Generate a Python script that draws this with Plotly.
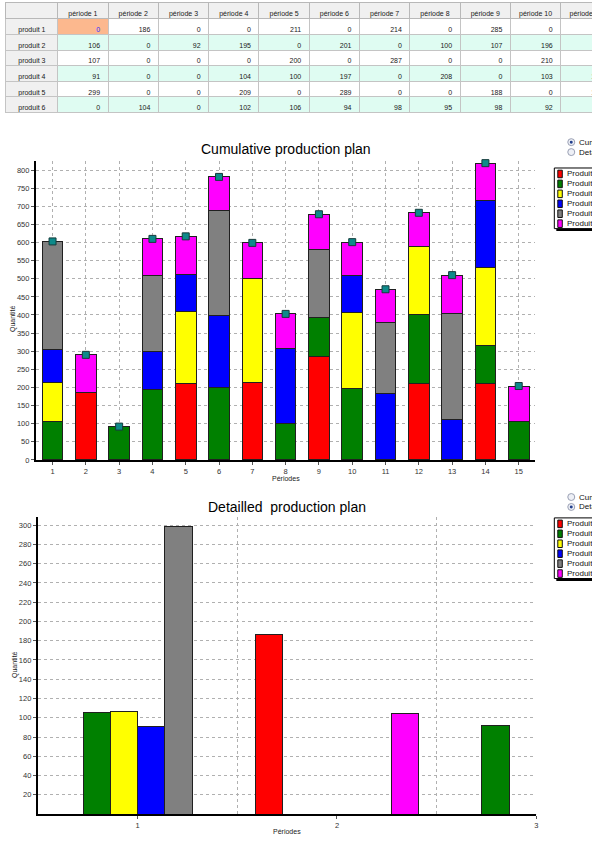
import plotly.graph_objects as go

# ---------------- data ----------------
periods = list(range(1, 16))
table_period_labels = [f"période\u00a0{i}" for i in range(1, 12)]
row_labels = [f"produit\u00a0{i}" for i in range(1, 7)]
legend_labels = [f"Produit {i}" for i in range(1, 7)]

produit_1 = [0, 186, 0, 0, 211, 0, 214, 0, 285, 0, 0, 210, 0, 211, 0]
produit_2 = [106, 0, 92, 195, 0, 201, 0, 100, 107, 196, 0, 190, 0, 106, 107]
produit_3 = [107, 0, 0, 0, 200, 0, 287, 0, 0, 210, 0, 189, 0, 213, 0]
produit_4 = [91, 0, 0, 104, 100, 197, 0, 208, 0, 103, 184, 0, 111, 186, 0]
produit_5 = [299, 0, 0, 209, 0, 289, 0, 0, 188, 0, 196, 0, 294, 0, 0]
produit_6 = [0, 104, 0, 102, 106, 94, 98, 95, 98, 92, 91, 93, 105, 103, 97]
series = [produit_1, produit_2, produit_3, produit_4, produit_5, produit_6]

detail_periods = periods[:3]
table_periods = 11

colors = ["#ff0000", "#008000", "#ffff00", "#0000ff", "#808080", "#ff00ff"]

# ---------------- geometry helpers ----------------
W, H = 660, 841
def px(x):
    return x / W
def py(y):
    return 1 - y / H

FONT = "Liberation Sans"
fig = go.Figure()

# ---------------- table ----------------
header_vals = [""] + table_period_labels
cell_vals = [row_labels]
fill_cols = [["#f0f0f0"] * 6]
font_cols = [["#202020"] * 6]
row_fill = ["#ffffff", "#dffcf2", "#ffffff", "#dffcf2", "#ffffff", "#dffcf2"]
for j in range(table_periods):
    col, fcol, ccol = [], [], []
    for i, s in enumerate(series):
        col.append(str(s[j]))
        if i == 0 and j == 0:   # selected cell
            fcol.append("#fcb88e")
            ccol.append("#2c2cff")
        else:
            fcol.append(row_fill[i])
            ccol.append("#202020")
    cell_vals.append(col)
    fill_cols.append(fcol)
    font_cols.append(ccol)

fig.add_trace(go.Table(
    domain=dict(x=[px(6), px(6 + 52 + 50.5 * 11)], y=[py(128), py(3)]),
    columnwidth=[52] + [50.5] * 11,
    header=dict(values=header_vals, fill_color="#f0f0f0", height=16,
                line=dict(color="#b8b8b8", width=1),
                font=dict(family=FONT, size=7, color="#202020"), align="center"),
    cells=dict(values=cell_vals, fill=dict(color=fill_cols), height=15.6,
               line=dict(color="#c4c4c4", width=1),
               font=dict(family=FONT, size=7, color=font_cols),
               align=["center"] + ["right"] * 11),
))

# ---------------- cumulative (stacked) chart ----------------
for i, s in enumerate(series):
    fig.add_trace(go.Bar(
        x=periods, y=s, xaxis="x", yaxis="y", name=legend_labels[i],
        offsetgroup="cum", width=0.62,
        marker=dict(color=colors[i], line=dict(color="#202020", width=1)),
        showlegend=False,
    ))
totals = [sum(vals) for vals in zip(*series)]
fig.add_trace(go.Scatter(
    x=periods, y=totals, xaxis="x", yaxis="y", mode="markers",
    marker=dict(symbol="square", size=7, color="#0d8a8a",
                line=dict(color="#163c3c", width=1)),
    showlegend=False, cliponaxis=False,
))

# ---------------- detailed (grouped) chart ----------------
for i, s in enumerate(series):
    fig.add_trace(go.Bar(
        x=detail_periods, y=s[:3], xaxis="x2", yaxis="y2", name=legend_labels[i],
        offsetgroup=f"d{i}",
        marker=dict(color=colors[i], line=dict(color="#202020", width=1)),
        showlegend=False,
    ))

DASH = "3px,3px"
grid = dict(showgrid=True, gridcolor="#b0b0b0", griddash=DASH, gridwidth=1)
axis_common = dict(showline=True, linecolor="black", linewidth=2, ticks="outside",
                   ticklen=3, tickcolor="#555", zeroline=False,
                   tickfont=dict(family=FONT, size=7.5, color="#333"), fixedrange=True)

fig.update_layout(
    width=W, height=H, margin=dict(l=0, r=0, t=0, b=0),
    paper_bgcolor="white", plot_bgcolor="white",
    barmode="stack", bargap=0.18, bargroupgap=0,
    font=dict(family=FONT),
    xaxis=dict(domain=[px(36), px(537)], range=[0.5, 15.5], tickvals=periods,
               anchor="y", **grid, **axis_common),
    yaxis=dict(domain=[py(462.7), py(162.3)], range=[0, 824], tick0=0, dtick=50,
               anchor="x", **grid, **axis_common),
    xaxis2=dict(domain=[px(38), px(538)], range=[0.5, 3.0], tickvals=detail_periods,
                anchor="y2", showgrid=False,
                minor=dict(tickvals=[1.5, 2.5], showgrid=True, gridcolor="#b0b0b0",
                           griddash=DASH, ticks=""),
                **axis_common),
    yaxis2=dict(domain=[py(819), py(520)], range=[0, 308.5],
                tickvals=list(range(20, 301, 20)), anchor="x2", **grid, **axis_common),
)

ann = []
shapes = []
def text(x, y, t, size=8, anchor="center", angle=0, color="#222"):
    ann.append(dict(x=px(x), y=py(y), xref="paper", yref="paper", text=t,
                    showarrow=False, xanchor=anchor, yanchor="middle",
                    textangle=angle, font=dict(family=FONT, size=size, color=color)))

# titles
text(286.5, 150, "Cumulative production plan", size=14, color="black")
text(288, 510, "Detailled\u00a0 production plan", size=14, color="black")
text(13, 320, "Quantité", size=7, angle=-90)
text(15, 668, "Quantité", size=7, angle=-90)
text(287, 481, "Périodes", size=7)
text(288, 836, "Périodes", size=7)

def legend_block(top_radio, box_top, selected):
    # radio buttons
    for k, lab in enumerate(["Cumulative", "Detailled"]):
        cy = top_radio + k * 10
        shapes.append(dict(type="circle", xref="paper", yref="paper",
                           x0=px(569.5), x1=px(576.5), y0=py(cy + 3.5), y1=py(cy - 3.5),
                           line=dict(color="#9aa0b4", width=1), fillcolor="#eef0f6"))
        if k == selected:
            shapes.append(dict(type="circle", xref="paper", yref="paper",
                               x0=px(571.5), x1=px(574.5), y0=py(cy + 1.5), y1=py(cy - 1.5),
                               line=dict(color="#23408e", width=0), fillcolor="#23408e"))
        text(579, cy, lab, size=8, anchor="left", color="#111")
    box_bot = box_top + 61
    shapes.append(dict(type="rect", xref="paper", yref="paper",
                       x0=px(558), x1=px(660), y0=py(box_bot + 2.5), y1=py(box_top + 2),
                       line=dict(width=0), fillcolor="black"))
    shapes.append(dict(type="rect", xref="paper", yref="paper",
                       x0=px(556), x1=px(660), y0=py(box_bot), y1=py(box_top),
                       line=dict(color="black", width=1), fillcolor="white"))
    for k, lab in enumerate(legend_labels):
        cy = box_top + 6 + k * 10
        shapes.append(dict(type="rect", xref="paper", yref="paper",
                           x0=px(559.5), x1=px(564), y0=py(cy + 3.8), y1=py(cy - 3.8),
                           line=dict(color="#101010", width=1), fillcolor=colors[k]))
        text(566.5, cy, lab, size=8, anchor="left", color="#111")

legend_block(143, 169, 0)
legend_block(500, 521, 1)

fig.update_layout(annotations=ann, shapes=shapes)

fig.write_html("out.html", config={"displayModeBar": False}, post_script=(
    "document.body.style.margin='0';"
    "document.body.style.overflow='hidden';"
    "document.documentElement.style.overflow='hidden';"))
